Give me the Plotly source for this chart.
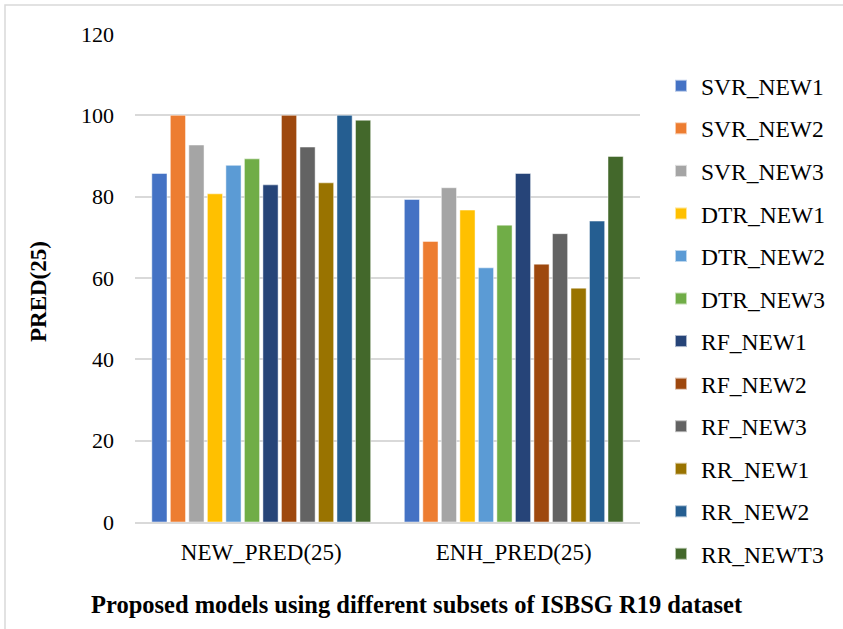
import plotly.graph_objects as go

categories = ["NEW_PRED(25)", "ENH_PRED(25)"]
series_names = ["SVR_NEW1", "SVR_NEW2", "SVR_NEW3", "DTR_NEW1", "DTR_NEW2", "DTR_NEW3",
                "RF_NEW1", "RF_NEW2", "RF_NEW3", "RR_NEW1", "RR_NEW2", "RR_NEWT3"]
new_pred = [85.7, 100, 92.7, 80.7, 87.7, 89.3, 82.9, 100, 92.2, 83.4, 100, 98.8]
enh_pred = [79.3, 69.0, 82.2, 76.7, 62.5, 73.0, 85.7, 63.4, 70.9, 57.5, 74.0, 89.9]
colors = ["#4472C4", "#ED7D31", "#A5A5A5", "#FFC000", "#5B9BD5", "#70AD47",
          "#264478", "#9E480E", "#636363", "#997300", "#255E91", "#43682B"]
y_ticks = [0, 20, 40, 60, 80, 100, 120]

FONT = "Liberation Serif, Times New Roman, serif"

fig = go.Figure()
for i, name in enumerate(series_names):
    fig.add_trace(go.Bar(
        name=name, x=categories, y=[new_pred[i], enh_pred[i]],
        marker=dict(color=colors[i], line=dict(color="rgba(255,255,255,0.6)", width=0.8)),
        legendgroup=name,
    ))

L, R, T, B = 135, 203, 34, 107
W, H = 843, 629
pw, ph = W - L - R, H - T - B

fig.update_layout(
    width=W, height=H,
    margin=dict(l=L, r=R, t=T, b=B),
    paper_bgcolor="white", plot_bgcolor="white",
    barmode="group", bargap=0.12, bargroupgap=0.18,
    font=dict(family=FONT, color="#000000"),
    showlegend=True,
    legend=dict(
        x=(661 - L) / pw, xanchor="left", y=1 - (64 - T) / ph, yanchor="top",
        font=dict(family=FONT, size=23.5, color="#000000"),
        tracegroupgap=9, itemsizing="constant", bgcolor="rgba(0,0,0,0)",
        maxheight=620,
    ),
    xaxis=dict(
        showgrid=False, showline=True, linecolor="#d9d9d9", linewidth=1.5,
        tickfont=dict(family=FONT, size=23, color="#000000"), ticks="",
        ticklabelstandoff=9,
    ),
    yaxis=dict(
        range=[0, 120], tickvals=y_ticks, ticktext=[str(v) for v in y_ticks],
        showgrid=True, gridcolor="#d9d9d9", gridwidth=1.5, zeroline=False,
        showline=False, tickfont=dict(family=FONT, size=22, color="#000000"),
        ticks="", ticklabelstandoff=20,
    ),
    annotations=[
        dict(text="<b>PRED(25)</b>", textangle=-90, x=(38 - L) / pw, y=1 - (292 - T) / ph,
             xref="paper", yref="paper", showarrow=False,
             font=dict(family=FONT, size=23, color="#000000"), xanchor="center", yanchor="middle"),
        dict(text="<b>Proposed models using different subsets of ISBSG R19 dataset</b>",
             x=(417 - L) / pw, y=-(604 - (H - B)) / ph, xref="paper", yref="paper",
             showarrow=False, font=dict(family=FONT, size=24.5, color="#000000"),
             xanchor="center", yanchor="middle"),
    ],
    shapes=[
        dict(type="rect", xref="paper", yref="paper", layer="below",
             x0=(5 - L) / pw, x1=(850 - L) / pw, y0=-(640 - (H - B)) / ph, y1=1 + (T - 5) / ph,
             line=dict(color="#d9d9d9", width=1.5), fillcolor="rgba(0,0,0,0)"),
    ],
)

fig.write_html("out.html")
